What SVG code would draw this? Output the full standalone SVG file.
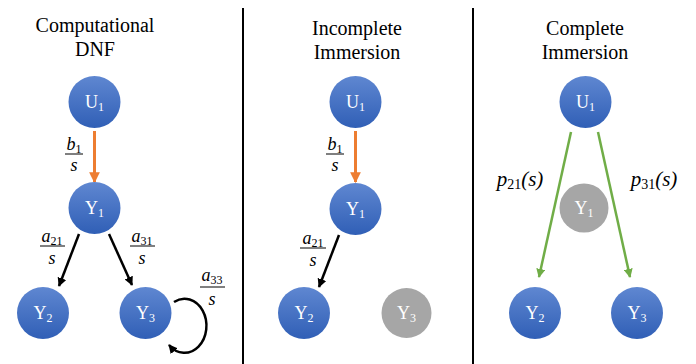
<svg xmlns="http://www.w3.org/2000/svg" width="696" height="364" viewBox="0 0 696 364">
<defs>
<linearGradient id="blue" x1="0" y1="0" x2="0" y2="1">
<stop offset="0" stop-color="#5f87d1"/>
<stop offset="1" stop-color="#305fb6"/>
</linearGradient>
<marker id="mOr" viewBox="0 0 10 10" refX="9" refY="5" markerWidth="3.6" markerHeight="3.6" orient="auto" markerUnits="strokeWidth"><path d="M0,0 L10,5 L0,10 z" fill="#ed7d31"/></marker>
<marker id="mBk" viewBox="0 0 10 10" refX="9" refY="5" markerWidth="3.6" markerHeight="3.6" orient="auto" markerUnits="strokeWidth"><path d="M0,0 L10,5 L0,10 z" fill="#000"/></marker>
<marker id="mGr" viewBox="0 0 10 10" refX="9" refY="5" markerWidth="3.6" markerHeight="3.6" orient="auto" markerUnits="strokeWidth"><path d="M0,0 L10,5 L0,10 z" fill="#70ad47"/></marker>
</defs>
<style>
.nb{fill:url(#blue)}
.ng{fill:#a6a6a6}
.bar{stroke:#000;stroke-width:1}
.sep{stroke:#000;stroke-width:2}
.or{stroke:#ed7d31;stroke-width:3;fill:none;marker-end:url(#mOr)}
.bk{stroke:#000;stroke-width:2.5;fill:none;marker-end:url(#mBk)}
.gr{stroke:#70ad47;stroke-width:2.5;fill:none;marker-end:url(#mGr)}
</style>
<rect width="696" height="364" fill="#fff"/>
<line class="sep" x1="243" y1="8" x2="243" y2="364"/>
<line class="sep" x1="473" y1="8" x2="473" y2="364"/>
<g id="titles" font-family="Liberation Serif, Times New Roman, serif" font-size="20" fill="#000" text-anchor="middle">
<text x="95" y="32">Computational</text>
<text x="95" y="56">DNF</text>
<text x="357" y="35">Incomplete</text>
<text x="357" y="59">Immersion</text>
<text x="585" y="35">Complete</text>
<text x="585" y="59">Immersion</text>
</g>
<g id="connectors">
<line class="or" x1="94.5" y1="131" x2="94.5" y2="182"/>
<line class="bk" x1="79" y1="234" x2="59" y2="286"/>
<line class="bk" x1="109" y1="234" x2="132" y2="285"/>
<path class="bk" d="M174,302 A22,27 0 1 1 169,345"/>
<line class="or" x1="355.5" y1="131" x2="355.5" y2="182"/>
<line class="bk" x1="339" y1="235" x2="319" y2="287"/>
<line class="gr" x1="571" y1="132" x2="539" y2="277"/>
<line class="gr" x1="598" y1="132" x2="630" y2="277"/>
</g>
<g id="labels" font-family="Liberation Serif, Times New Roman, serif" font-size="18" font-style="italic" fill="#000" text-anchor="middle">
<text x="74" y="150">b<tspan font-size="12" font-style="normal" dy="3">1</tspan></text>
<line class="bar" x1="65" y1="154" x2="83" y2="154"/>
<text x="74" y="171">s</text>
<text x="52" y="242">a<tspan font-size="12" font-style="normal" dy="3">21</tspan></text>
<line class="bar" x1="40" y1="246" x2="65" y2="246"/>
<text x="52" y="264">s</text>
<text x="142" y="242">a<tspan font-size="12" font-style="normal" dy="3">31</tspan></text>
<line class="bar" x1="130" y1="246" x2="155" y2="246"/>
<text x="142" y="264">s</text>
<text x="212" y="281">a<tspan font-size="12" font-style="normal" dy="3">33</tspan></text>
<line class="bar" x1="200" y1="287" x2="225" y2="287"/>
<text x="212" y="305">s</text>
<text x="335" y="150">b<tspan font-size="12" font-style="normal" dy="3">1</tspan></text>
<line class="bar" x1="326" y1="154" x2="344" y2="154"/>
<text x="335" y="171">s</text>
<text x="313" y="244">a<tspan font-size="12" font-style="normal" dy="3">21</tspan></text>
<line class="bar" x1="300" y1="248" x2="326" y2="248"/>
<text x="313" y="266">s</text>
<text x="520" y="186" font-size="21">p<tspan font-size="14" font-style="normal" dy="3">21</tspan><tspan dy="-3">(s)</tspan></text>
<text x="654" y="186" font-size="21">p<tspan font-size="14" font-style="normal" dy="3">31</tspan><tspan dy="-3">(s)</tspan></text>
</g>
<g id="nodes" font-family="Liberation Serif, Times New Roman, serif" font-size="18" fill="#fff" text-anchor="middle">
<g id="p1-U1"><circle class="nb" cx="94.5" cy="102" r="26"/><text x="94.5" y="108">U<tspan font-size="12" dy="3">1</tspan></text></g>
<g id="p1-Y1"><circle class="nb" cx="94.5" cy="208" r="26"/><text x="94.5" y="214">Y<tspan font-size="12" dy="3">1</tspan></text></g>
<g id="p1-Y2"><circle class="nb" cx="43" cy="313" r="26"/><text x="43" y="319">Y<tspan font-size="12" dy="3">2</tspan></text></g>
<g id="p1-Y3"><circle class="nb" cx="145.5" cy="313" r="26"/><text x="145.5" y="319">Y<tspan font-size="12" dy="3">3</tspan></text></g>
<g id="p2-U1"><circle class="nb" cx="355.5" cy="102" r="26"/><text x="355.5" y="108">U<tspan font-size="12" dy="3">1</tspan></text></g>
<g id="p2-Y1"><circle class="nb" cx="355.5" cy="209" r="26"/><text x="355.5" y="215">Y<tspan font-size="12" dy="3">1</tspan></text></g>
<g id="p2-Y2"><circle class="nb" cx="304" cy="313" r="26"/><text x="304" y="319">Y<tspan font-size="12" dy="3">2</tspan></text></g>
<g id="p2-Y3"><circle class="ng" cx="406.5" cy="313" r="25"/><text x="406.5" y="319">Y<tspan font-size="12" dy="3">3</tspan></text></g>
<g id="p3-U1"><circle class="nb" cx="585.5" cy="102" r="26"/><text x="585.5" y="108">U<tspan font-size="12" dy="3">1</tspan></text></g>
<g id="p3-Y1"><circle class="ng" cx="584" cy="208" r="24.5"/><text x="584" y="214">Y<tspan font-size="12" dy="3">1</tspan></text></g>
<g id="p3-Y2"><circle class="nb" cx="535" cy="313" r="26"/><text x="535" y="319">Y<tspan font-size="12" dy="3">2</tspan></text></g>
<g id="p3-Y3"><circle class="nb" cx="637" cy="313" r="26"/><text x="637" y="319">Y<tspan font-size="12" dy="3">3</tspan></text></g>
</g>
</svg>
